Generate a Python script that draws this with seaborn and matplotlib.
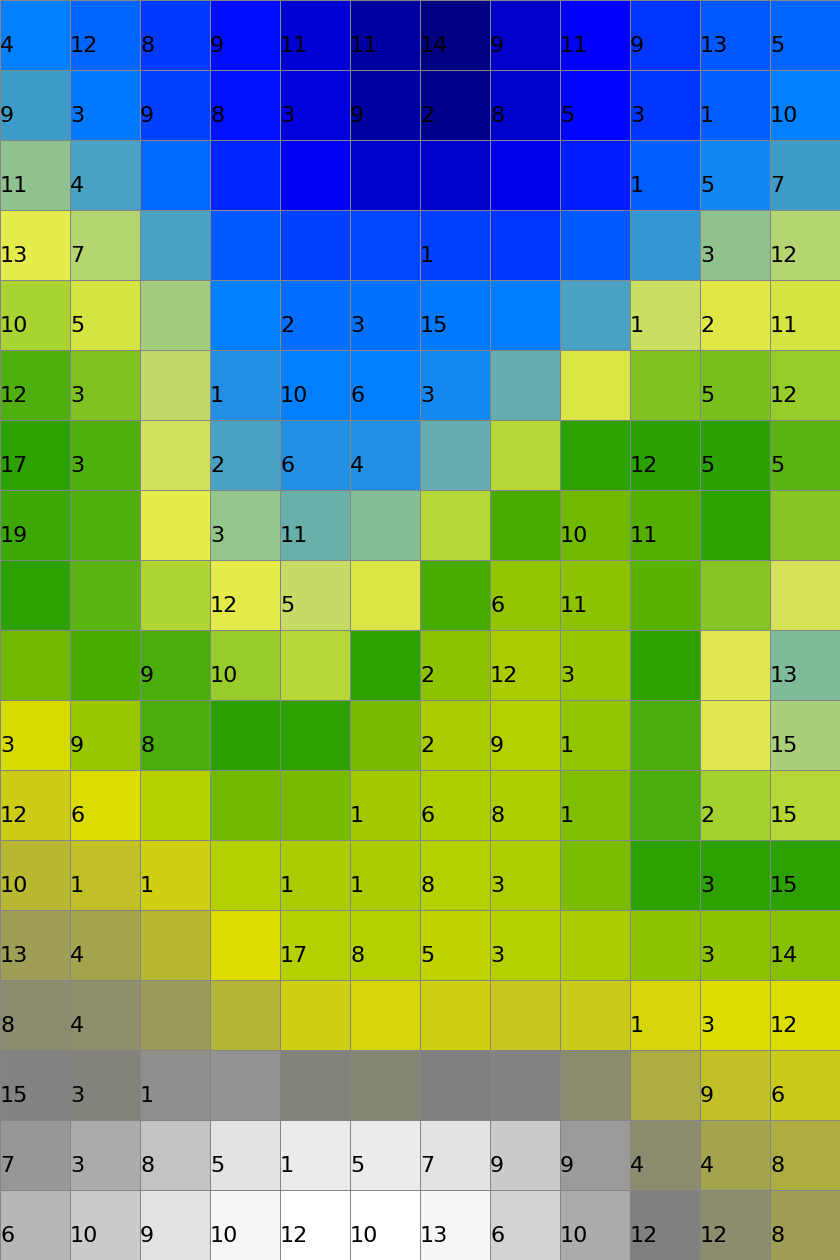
import seaborn as sns
import pandas as pd
import matplotlib.pyplot as plt
import numpy as np
from matplotlib.colors import LinearSegmentedColormap

# colour scale stops (low -> high)
scale_colors = ["#000080", "#0000ff", "#0080ff", "#3c9bcd", "#e8ec4b",
                "#28a000", "#dede00", "#808080", "#ffffff"]

# value behind the colour of every cell (18 rows x 12 cols)
level_rows = [
    [2.0, 1.8, 1.45, 1.12, 0.68, 0.25, 0.0, 0.57, 0.98, 1.42, 1.7, 1.8],
    [3.0, 1.94, 1.5, 1.15, 0.72, 0.25, 0.1, 0.6, 1.06, 1.43, 1.74, 2.0],
    [3.47, 3.09, 1.82, 1.31, 0.92, 0.6, 0.6, 0.88, 1.23, 1.74, 2.25, 3.02],
    [3.98, 3.7, 3.09, 1.7, 1.5, 1.55, 1.5, 1.43, 1.7, 2.85, 3.47, 3.69],
    [4.32, 4.1, 3.61, 2.0, 1.86, 1.9, 1.94, 1.97, 3.09, 3.84, 4.04, 4.11],
    [4.79, 4.56, 3.78, 2.58, 2.0, 2.03, 2.33, 3.23, 4.09, 4.56, 4.58, 4.43],
    [5.0, 4.79, 3.87, 3.09, 2.58, 2.58, 3.23, 4.27, 5.02, 4.97, 4.97, 4.74],
    [4.9, 4.79, 4.0, 3.52, 3.26, 3.41, 4.27, 5.16, 5.38, 5.22, 5.0, 4.53],
    [5.0, 4.74, 4.3, 4.0, 3.81, 4.09, 5.16, 5.58, 5.55, 5.25, 4.53, 3.88],
    [5.38, 5.16, 4.82, 4.43, 4.27, 5.0, 5.55, 5.71, 5.6, 5.0, 3.96, 3.38],
    [5.96, 5.6, 4.82, 4.97, 5.0, 5.41, 5.69, 5.77, 5.58, 4.82, 3.96, 3.64],
    [6.18, 6.0, 5.77, 5.38, 5.41, 5.66, 5.74, 5.74, 5.47, 4.82, 4.35, 4.25],
    [6.4, 6.3, 6.15, 5.78, 5.69, 5.69, 5.77, 5.74, 5.44, 5.0, 5.0, 5.0],
    [6.66, 6.6, 6.4, 6.0, 5.77, 5.78, 5.82, 5.77, 5.69, 5.55, 5.55, 5.52],
    [6.87, 6.82, 6.71, 6.43, 6.13, 6.07, 6.13, 6.23, 6.2, 6.07, 6.0, 5.98],
    [7.0, 6.96, 7.11, 7.13, 6.95, 6.92, 6.97, 7.0, 6.87, 6.53, 6.29, 6.2],
    [7.17, 7.33, 7.53, 7.76, 7.84, 7.84, 7.76, 7.57, 7.21, 6.87, 6.6, 6.5],
    [7.41, 7.57, 7.76, 7.92, 8.0, 8.0, 7.92, 7.65, 7.33, 6.98, 6.87, 6.66],
]

# numbers written in the cells (0 = empty cell)
label_rows = [
    [4, 12, 8, 9, 11, 11, 14, 9, 11, 9, 13, 5],
    [9, 3, 9, 8, 3, 9, 2, 8, 5, 3, 1, 10],
    [11, 4, 0, 0, 0, 0, 0, 0, 0, 1, 5, 7],
    [13, 7, 0, 0, 0, 0, 1, 0, 0, 0, 3, 12],
    [10, 5, 0, 0, 2, 3, 15, 0, 0, 1, 2, 11],
    [12, 3, 0, 1, 10, 6, 3, 0, 0, 0, 5, 12],
    [17, 3, 0, 2, 6, 4, 0, 0, 0, 12, 5, 5],
    [19, 0, 0, 3, 11, 0, 0, 0, 10, 11, 0, 0],
    [0, 0, 0, 12, 5, 0, 0, 6, 11, 0, 0, 0],
    [0, 0, 9, 10, 0, 0, 2, 12, 3, 0, 0, 13],
    [3, 9, 8, 0, 0, 0, 2, 9, 1, 0, 0, 15],
    [12, 6, 0, 0, 0, 1, 6, 8, 1, 0, 2, 15],
    [10, 1, 1, 0, 1, 1, 8, 3, 0, 0, 3, 15],
    [13, 4, 0, 0, 17, 8, 5, 3, 0, 0, 3, 14],
    [8, 4, 0, 0, 0, 0, 0, 0, 0, 1, 3, 12],
    [15, 3, 1, 0, 0, 0, 0, 0, 0, 0, 9, 6],
    [7, 3, 8, 5, 1, 5, 7, 9, 9, 4, 4, 8],
    [6, 10, 9, 10, 12, 10, 13, 6, 10, 12, 12, 8],
]

df = pd.DataFrame(level_rows)
labels = np.array(label_rows)

cmap = LinearSegmentedColormap.from_list("elev", scale_colors)

fig = plt.figure(figsize=(8.4, 12.6), dpi=100)
ax = fig.add_axes([0, 0, 1, 1])
sns.heatmap(df, cmap=cmap, vmin=0, vmax=8, cbar=False,
            linewidths=0.6, linecolor="#858585", ax=ax)

# numbers sit at the left side of the cell, a bit below the middle
for i in range(labels.shape[0]):
    for j in range(labels.shape[1]):
        if labels[i, j] > 0:
            ax.text(j, i + 0.75, str(labels[i, j]), ha="left",
                    va="baseline", fontsize=16, color="black")

ax.set_axis_off()
plt.savefig("out.png", dpi=100)
